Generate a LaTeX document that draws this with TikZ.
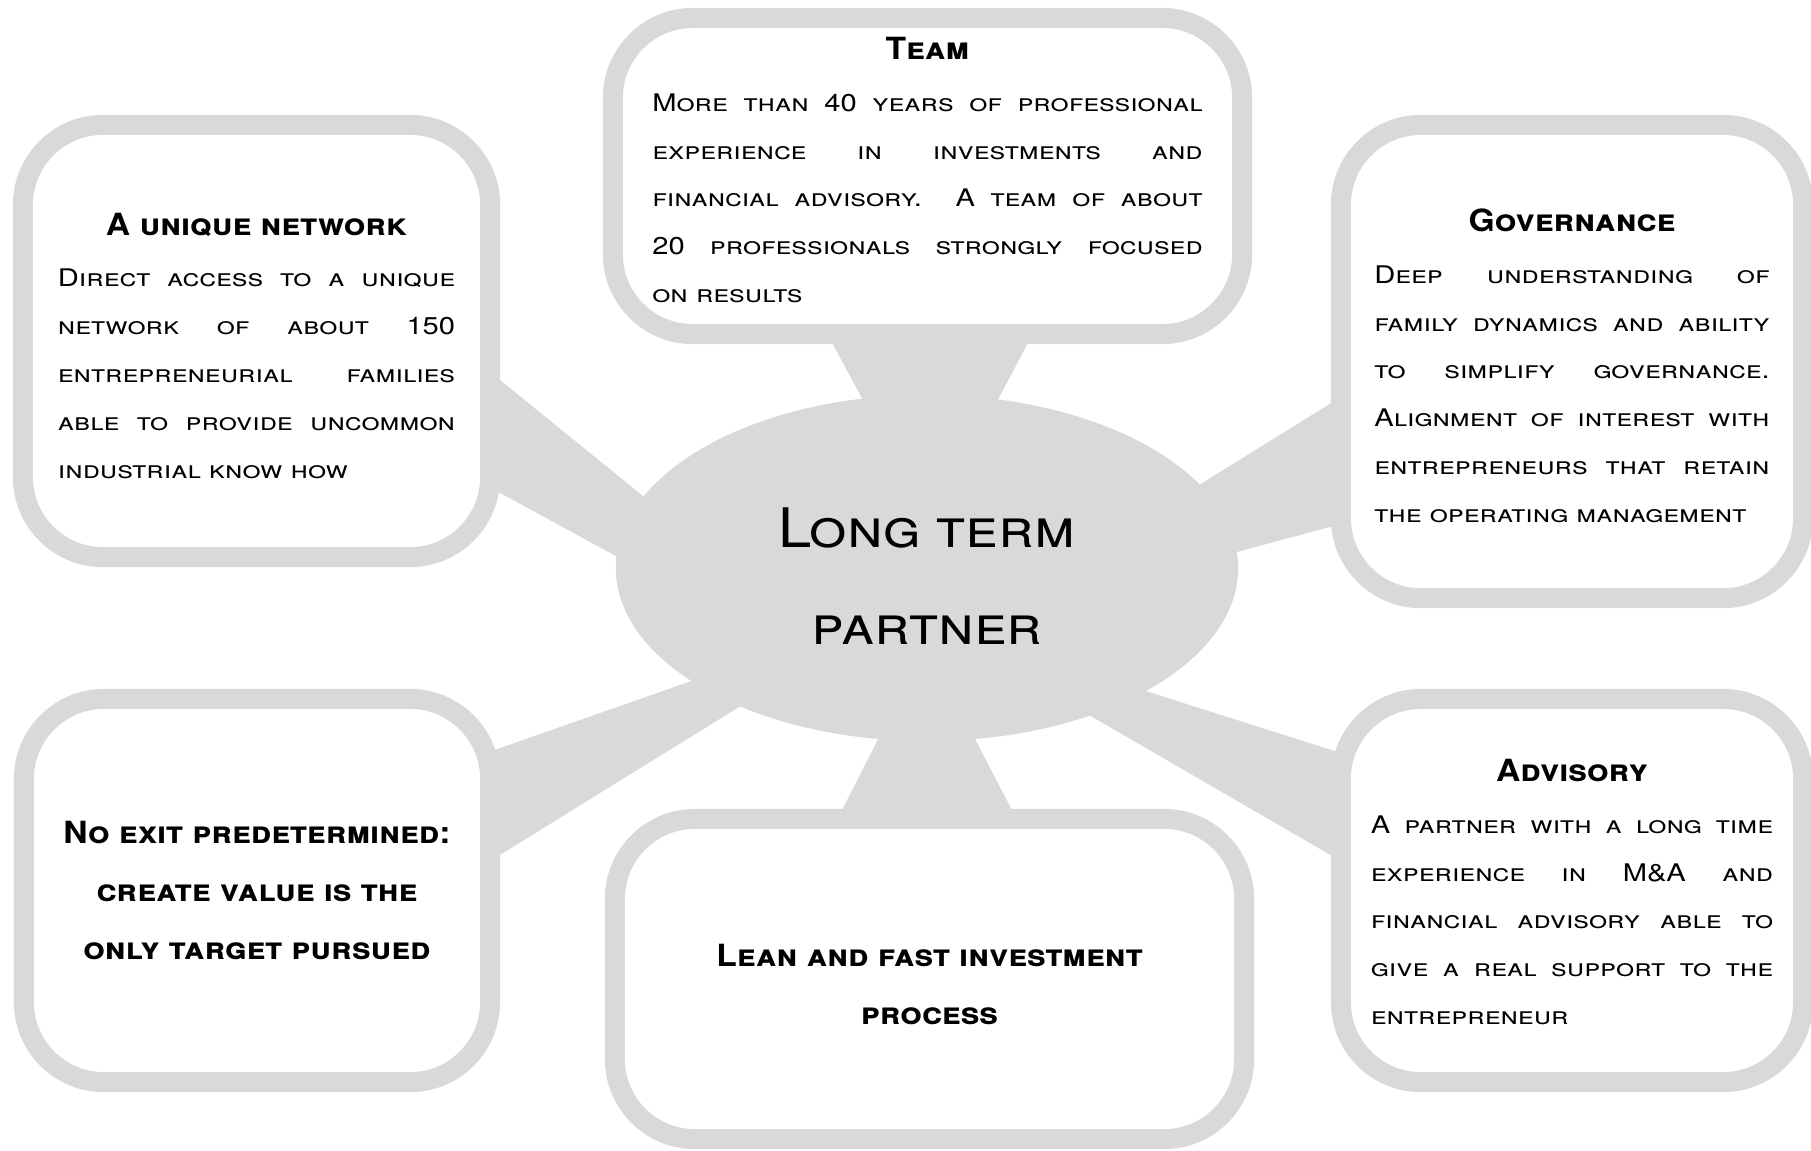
\documentclass[tikz,border=0pt]{standalone}
\usepackage{fontspec}
\setmainfont{TeX Gyre Heros}
\newfontfamily\bodyfont{TeX Gyre Heros}[Letters=SmallCaps, FakeStretch=1.2]
\newfontfamily\headfont{TeX Gyre Heros}[Letters=SmallCaps, FakeStretch=1.1]
\usetikzlibrary{shapes.geometric, calc, backgrounds}
\definecolor{spoke}{HTML}{D9D9D9}
\hyphenpenalty=10000
\exhyphenpenalty=10000
\newcommand{\cardhead}[1]{{\centering\headfont\bfseries\fontsize{8.7}{14}\selectfont\rule{0pt}{9pt}#1\par}\vspace{1pt}}
\begin{document}
\begin{tikzpicture}[x=0.01cm, y=-0.01cm,
    main/.style = {draw=spoke, line width=0.2cm, rounded corners=0.8cm, fill=white, inner sep=0pt,
      align=justify, font=\bodyfont\fontsize{6.9}{13.6}\selectfont},
    bold/.style = {main, align=center, font=\headfont\bfseries\fontsize{8.7}{16.6}\selectfont},
    hub/.style = {ellipse, fill=spoke, inner sep=0pt, minimum width=6.22cm, minimum height=3.46cm,
      align=center, font=\headfont\fontsize{15.5}{27.6}\selectfont}]
    \useasboundingbox (0,0) rectangle (1811,1150);
    \node[hub] (0) at (927,568) {\rule{0pt}{16pt}Long term\\partner};
    \node[main, minimum width=4.67cm, minimum height=4.32cm, text width=3.97cm] (1) at (256.5,341)
      {\cardhead{A unique network}Direct access to a unique\linebreak network of about 150\linebreak
       entrepreneurial families\linebreak able to provide uncommon\linebreak industrial know how};
    \node[main, minimum width=6.29cm, minimum height=3.16cm, text width=5.50cm] (2) at (927.5,176)
      {\cardhead{Team}More than 40 years of professional\linebreak experience in investments and\linebreak
       financial advisory. A team of about\linebreak 20 professionals strongly focused\linebreak on results\par\kern2.1mm};
    \node[main, minimum width=4.62cm, minimum height=4.73cm, text width=3.95cm] (3) at (1572,361.5)
      {\cardhead{Governance}Deep understanding of\linebreak family dynamics and ability\linebreak
       to simplify governance.\linebreak Alignment of interest with\linebreak entrepreneurs that retain\linebreak
       the operating management};
    \node[bold, minimum width=4.66cm, minimum height=3.83cm] (4) at (257,890.5)
      {No exit predetermined:\\create value is the\\only target pursued};
    \node[bold, minimum width=6.29cm, minimum height=3.20cm] (5) at (929.5,979)
      {\rule{0pt}{9.4pt}Lean and fast investment\\process};
    \node[main, minimum width=4.62cm, minimum height=3.83cm, text width=4.02cm] (6) at (1572,890.5)
      {\cardhead{Advisory}A partner with a long time\linebreak experience in M\&A and\linebreak
       financial advisory able to\linebreak give a real support to the\linebreak entrepreneur\par\kern0.6mm};
    %Spokes
    \begin{scope}[on background layer]
    \fill[spoke] ($(2.south)+(-100,-10)$) -- ($(2.south)+(105,-10)$) -- ($(0.center)+(55,-138)$) -- ($(0.center)+(-48,-138)$) -- cycle;
    \fill[spoke] ($(5.north)+(-92,10)$) -- ($(5.north)+(87,10)$) -- ($(0.center)+(33,142)$) -- ($(0.center)+(-34,142)$) -- cycle;
    \fill[spoke] ($(1.east)+(-10,31)$) -- ($(0.center)+(-247,-42)$) -- ($(0.center)+(-247,23)$) -- ($(1.east)+(-10,146.5)$) -- cycle;
    \fill[spoke] ($(3.west)+(10,35.5)$) -- ($(0.center)+(243,-65)$) -- ($(0.center)+(243,2)$) -- ($(3.west)+(10,162.5)$) -- cycle;
    \fill[spoke] ($(4.east)+(-10,-139)$) -- ($(0.center)+(-207,103)$) -- ($(0.center)+(-167,126)$) -- ($(4.east)+(-10,-29.5)$) -- cycle;
    \fill[spoke] ($(6.west)+(10,-137.5)$) -- ($(0.center)+(203,118)$) -- ($(0.center)+(143,136)$) -- ($(6.west)+(10,-29.5)$) -- cycle;
    \end{scope}
\end{tikzpicture}
\end{document}
